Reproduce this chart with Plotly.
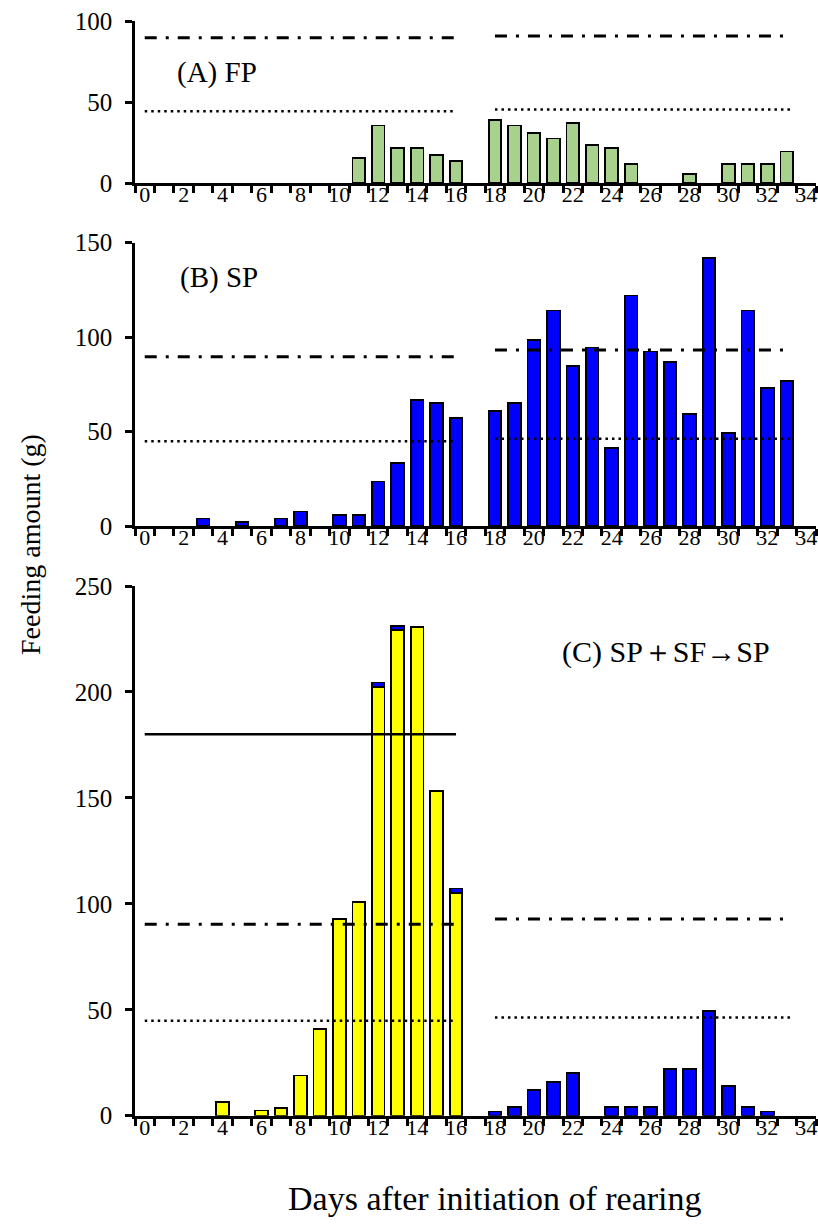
import plotly.graph_objects as go

# ---------------- data ----------------
fp_days = [11, 12, 13, 14, 15, 16, 18, 19, 20, 21, 22, 23, 24, 25, 28, 30, 31, 32, 33]
fp_vals = [15.5, 35.5, 21.5, 21.5, 17.5, 13.5, 39, 35.5, 31, 27.5, 37, 23.5, 21.5, 11.7, 5.8, 11.7, 11.7, 11.7, 19.5]

sp_days = [3, 5, 7, 8, 10, 11, 12, 13, 14, 15, 16, 18, 19, 20, 21, 22, 23, 24, 25, 26, 27, 28, 29, 30, 31, 32, 33]
sp_vals = [4, 2, 4, 7.7, 5.8, 5.8, 23.6, 33.3, 66.7, 65, 57, 61, 65, 98.6, 114, 84.7, 94.5, 41.2, 122, 92.3, 86.6, 59.2, 141.7, 49.3, 114, 72.9, 76.6]

c_sf_days = [4, 6, 7, 8, 9, 10, 11, 12, 13, 14, 15, 16]
c_sf_vals = [6.3, 2.5, 3.8, 19, 40.8, 92.8, 100.7, 202.5, 229.2, 230.5, 153.2, 105.2]

c_sp_days = [12, 13, 16, 18, 19, 20, 21, 22, 24, 25, 26, 27, 28, 29, 30, 31, 32]
c_sp_vals = [2, 2, 2, 2, 4, 12, 16, 20, 4, 4, 4, 22, 22, 49.3, 14, 4, 2]

# reference lines: [x_start, x_end], level
left_span = [0, 16]
right_span = [18, 33.2]
a_dashdot = [89.6, 90.8]
a_dot = [44.3, 45.3]
b_dashdot = [89.6, 93.1]
b_dot = [44.9, 46.2]
c_solid = 180
c_dashdot = [90.3, 92.8]
c_dot = [44.8, 46.4]

x_tickvals = list(range(0, 35, 2))
x_ticktext = [str(v) for v in x_tickvals]
minor_ticks = [d - 0.5 for d in range(0, 36)]

# ---------------- styling ----------------
W, H = 818, 1224
FONT = "Liberation Serif, Times New Roman, serif"
green = "#a9d18e"
blue = "#0000ff"
yellow = "#ffff00"
bar_w = 0.65
edge = dict(color="black", width=1.8)
dashdot_pat = "12px,9px,3px,9px"
dot_pat = "2.5px,4px"


def py(p):
    return 1 - p / H


x_dom = [135 / W, 816 / W]
domains = {
    "A": [py(183), py(21)],
    "B": [py(526), py(242.5)],
    "C": [py(1115.7), py(586)],
}

fig = go.Figure()

fig.add_trace(go.Bar(x=fp_days, y=fp_vals, width=bar_w, marker=dict(color=green, line=edge),
                     xaxis="x", yaxis="y"))
fig.add_trace(go.Bar(x=sp_days, y=sp_vals, width=bar_w, marker=dict(color=blue, line=edge),
                     xaxis="x2", yaxis="y2"))
fig.add_trace(go.Bar(x=c_sf_days, y=c_sf_vals, width=bar_w, marker=dict(color=yellow, line=edge),
                     xaxis="x3", yaxis="y3"))
fig.add_trace(go.Bar(x=c_sp_days, y=c_sp_vals, width=bar_w, marker=dict(color=blue, line=edge),
                     xaxis="x3", yaxis="y3"))


def ref_line(xa, ya, span, level, dash, width):
    fig.add_trace(go.Scatter(x=span, y=[level, level], mode="lines",
                             line=dict(color="black", width=width, dash=dash),
                             xaxis=xa, yaxis=ya, hoverinfo="skip"))


for (xa, ya, dd, dt) in [("x", "y", a_dashdot, a_dot), ("x2", "y2", b_dashdot, b_dot),
                         ("x3", "y3", c_dashdot, c_dot)]:
    ref_line(xa, ya, left_span, dd[0], dashdot_pat, 3)
    ref_line(xa, ya, right_span, dd[1], dashdot_pat, 3)
    ref_line(xa, ya, left_span, dt[0], dot_pat, 2.5)
    ref_line(xa, ya, right_span, dt[1], dot_pat, 2.5)
ref_line("x3", "y3", left_span, c_solid, "solid", 2.5)

common_x = dict(range=[-0.5, 34.5], domain=x_dom, showline=True, linecolor="black", linewidth=3,
                tickvals=x_tickvals, ticktext=x_ticktext, ticks="", showgrid=False, zeroline=False,
                tickfont=dict(family=FONT, size=22, color="black"), ticklabelstandoff=-10,
                minor=dict(tickvals=minor_ticks, ticks="outside", ticklen=7, tickwidth=2.5,
                           tickcolor="black", showgrid=False))
common_y = dict(showline=True, linecolor="black", linewidth=2.5, ticks="outside", ticklen=7,
                tickwidth=2.5, tickcolor="black", showgrid=False, zeroline=False,
                tickfont=dict(family=FONT, size=25, color="black"), ticklabelstandoff=8)

fig.update_layout(
    width=W, height=H, margin=dict(l=0, r=0, t=0, b=0, autoexpand=False),
    paper_bgcolor="white", plot_bgcolor="white", showlegend=False, barmode="stack",
    font=dict(family=FONT, color="black"),
    xaxis=dict(common_x, anchor="y"),
    yaxis=dict(common_y, domain=domains["A"], range=[0, 100], tickvals=[0, 50, 100], anchor="x"),
    xaxis2=dict(common_x, anchor="y2"),
    yaxis2=dict(common_y, domain=domains["B"], range=[0, 150], tickvals=[0, 50, 100, 150], anchor="x2"),
    xaxis3=dict(common_x, anchor="y3"),
    yaxis3=dict(common_y, domain=domains["C"], range=[0, 250], tickvals=[0, 50, 100, 150, 200, 250],
                anchor="x3"),
)

anno_font = dict(family=FONT, size=29, color="black")
fig.add_annotation(text="(A) FP", x=3.7, y=68, xref="x", yref="y", showarrow=False, font=anno_font)
fig.add_annotation(text="(B) SP", x=3.8, y=131.5, xref="x2", yref="y2", showarrow=False, font=anno_font)
fig.add_annotation(text="(C) SP＋SF→SP", x=26.8, y=219, xref="x3", yref="y3", showarrow=False,
                   font=dict(family=FONT, size=30, color="black"))
fig.add_annotation(text="Feeding amount (g)", x=30 / W, y=py(545), xref="paper", yref="paper",
                   xanchor="center", yanchor="middle",
                   textangle=-90, showarrow=False, font=dict(family=FONT, size=28, color="black"))
fig.add_annotation(text="Days after initiation of rearing", x=495 / W, y=py(1198), xref="paper",
                   yref="paper", xanchor="center", yanchor="middle",
                   showarrow=False, font=dict(family=FONT, size=34, color="black"))

fig.write_html("out.html", config={"displayModeBar": False},
               post_script="document.body.style.margin='0';document.body.style.overflow='hidden';")
